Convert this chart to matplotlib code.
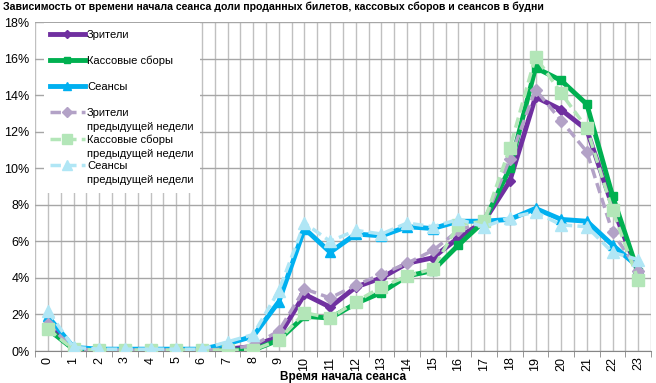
import numpy as np
import matplotlib
matplotlib.use("Agg")
import matplotlib.pyplot as plt
from matplotlib.lines import Line2D
from matplotlib.patches import Rectangle
from matplotlib.ticker import FuncFormatter

plt.rcParams['font.family'] = ['Liberation Sans', 'DejaVu Sans']

hours = list(range(24))

# shares, % (current week)
viewers = [1.4, 0.1, 0.05, 0.05, 0.05, 0.05, 0.05, 0.1, 0.25, 0.8, 3.1, 2.4, 3.5, 4.0, 4.8, 5.1,
           6.2, 7.1, 9.3, 13.9, 13.2, 12.1, 7.9, 4.3]
boxoffice = [1.2, 0.1, 0.05, 0.05, 0.05, 0.05, 0.05, 0.05, 0.05, 0.6, 1.9, 1.8, 2.6, 3.2, 4.1, 4.4,
             5.8, 7.1, 10.0, 15.5, 14.8, 13.5, 8.5, 4.3]
sessions = [1.9, 0.2, 0.1, 0.1, 0.1, 0.1, 0.1, 0.4, 0.8, 2.7, 6.7, 5.4, 6.4, 6.3, 6.8, 6.7,
            7.1, 7.1, 7.2, 7.8, 7.2, 7.1, 5.8, 4.6]

# previous week
viewers_prev = [1.5, 0.1, 0.05, 0.05, 0.05, 0.05, 0.05, 0.1, 0.3, 1.1, 3.4, 2.9, 3.6, 4.2, 4.8, 5.5,
                6.6, 7.1, 10.5, 14.3, 12.6, 10.9, 6.5, 4.4]
boxoffice_prev = [1.2, 0.1, 0.05, 0.05, 0.05, 0.05, 0.05, 0.05, 0.05, 0.6, 2.1, 1.8, 2.7, 3.5, 4.1, 4.5,
                  6.9, 7.1, 11.1, 16.1, 14.1, 12.2, 7.7, 3.9]
sessions_prev = [2.2, 0.2, 0.1, 0.1, 0.1, 0.1, 0.1, 0.5, 0.9, 3.3, 7.0, 6.0, 6.6, 6.4, 7.0, 6.8,
                 7.2, 6.8, 7.3, 7.6, 6.9, 6.8, 5.4, 5.0]

labels = ['Зрители', 'Кассовые сборы', 'Сеансы',
          'Зрители\nпредыдущей недели', 'Кассовые сборы\nпредыдущей недели',
          'Сеансы\nпредыдущей недели']

W, H = 656, 383
fig = plt.figure(figsize=(W / 100, H / 100), dpi=100)
ax = fig.add_axes([35 / W, 1 - 351 / H, 616 / W, 329 / H])

dash = (0, (3, 1.5))
styles = [
    dict(color='#7030A0', lw=3.5, marker='D', ms=5),
    dict(color='#00B050', lw=3.5, marker='s', ms=6),
    dict(color='#00B0F0', lw=3.5, marker='^', ms=7),
    dict(color='#B3A2C7', lw=2.5, ls=dash, marker='D', ms=6),
    dict(color='#B3E6B8', lw=2.5, ls=dash, marker='s', ms=8),
    dict(color='#B0E6F5', lw=2.5, ls=dash, marker='^', ms=8),
]
series = [viewers, boxoffice, sessions, viewers_prev, boxoffice_prev, sessions_prev]
for i, (vals, st) in enumerate(zip(series, styles)):
    ax.plot(hours, vals, zorder=3 if i < 3 else 4, **st)

ax.set_xlim(-0.5, 23.5)
ax.set_ylim(0, 18)
ax.set_yticks(np.arange(0, 19, 2))
ax.yaxis.set_major_formatter(FuncFormatter(lambda v, p: '%d%%' % v))
ax.set_xticks(hours)
ax.set_xticklabels([str(h) for h in hours], rotation=90)
ax.set_xticks(np.arange(-0.5, 24, 1), minor=True)
ax.tick_params(axis='x', which='major', length=0, pad=4, labelsize=9)
ax.tick_params(axis='x', which='minor', length=4, color='#868686')
ax.tick_params(axis='y', length=0, labelsize=9, pad=4)

for x in np.arange(-0.5, 24, 0.5):
    ax.axvline(x, color='#c0c0c0', lw=1, zorder=1)
ax.grid(axis='y', color='#a6a6a6', lw=1, zorder=1)
for s in ['top', 'right', 'left']:
    ax.spines[s].set_visible(False)
ax.spines['bottom'].set_color('#868686')

ax.set_xlabel('Время начала сеанса', fontsize=8.5, fontweight='bold', labelpad=0)
fig.text(3 / W, 1 - 2 / H, 'Зависимость от времени начала сеанса доли проданных билетов, кассовых сборов и сеансов в будни',
         fontsize=7.6, fontweight='bold', va='top', ha='left')

# legend drawn by hand: handle sits on the first line of a two-line label
fig.add_artist(Rectangle((44 / W, 1 - 193 / H), 156 / W, 170 / H, transform=fig.transFigure,
                         facecolor='white', edgecolor='none', zorder=5))
rows = [34, 60, 86, 112, 139, 165]
for lab, st, y in zip(labels, styles, rows):
    yf = 1 - y / H
    fig.add_artist(Line2D([50 / W, 85 / W], [yf, yf], transform=fig.transFigure,
                          color=st['color'], lw=st['lw'], ls=st.get('ls', '-'), zorder=6))
    fig.add_artist(Line2D([67 / W], [yf], transform=fig.transFigure, color=st['color'],
                          marker=st['marker'], ms=st['ms'] - 1, zorder=7))
    for k, line in enumerate(lab.split('\n')):
        fig.text(87 / W, yf - (1 + 14 * k) / H, line, fontsize=8, va='center', ha='left', zorder=7)

fig.savefig('out.png', dpi=100)
